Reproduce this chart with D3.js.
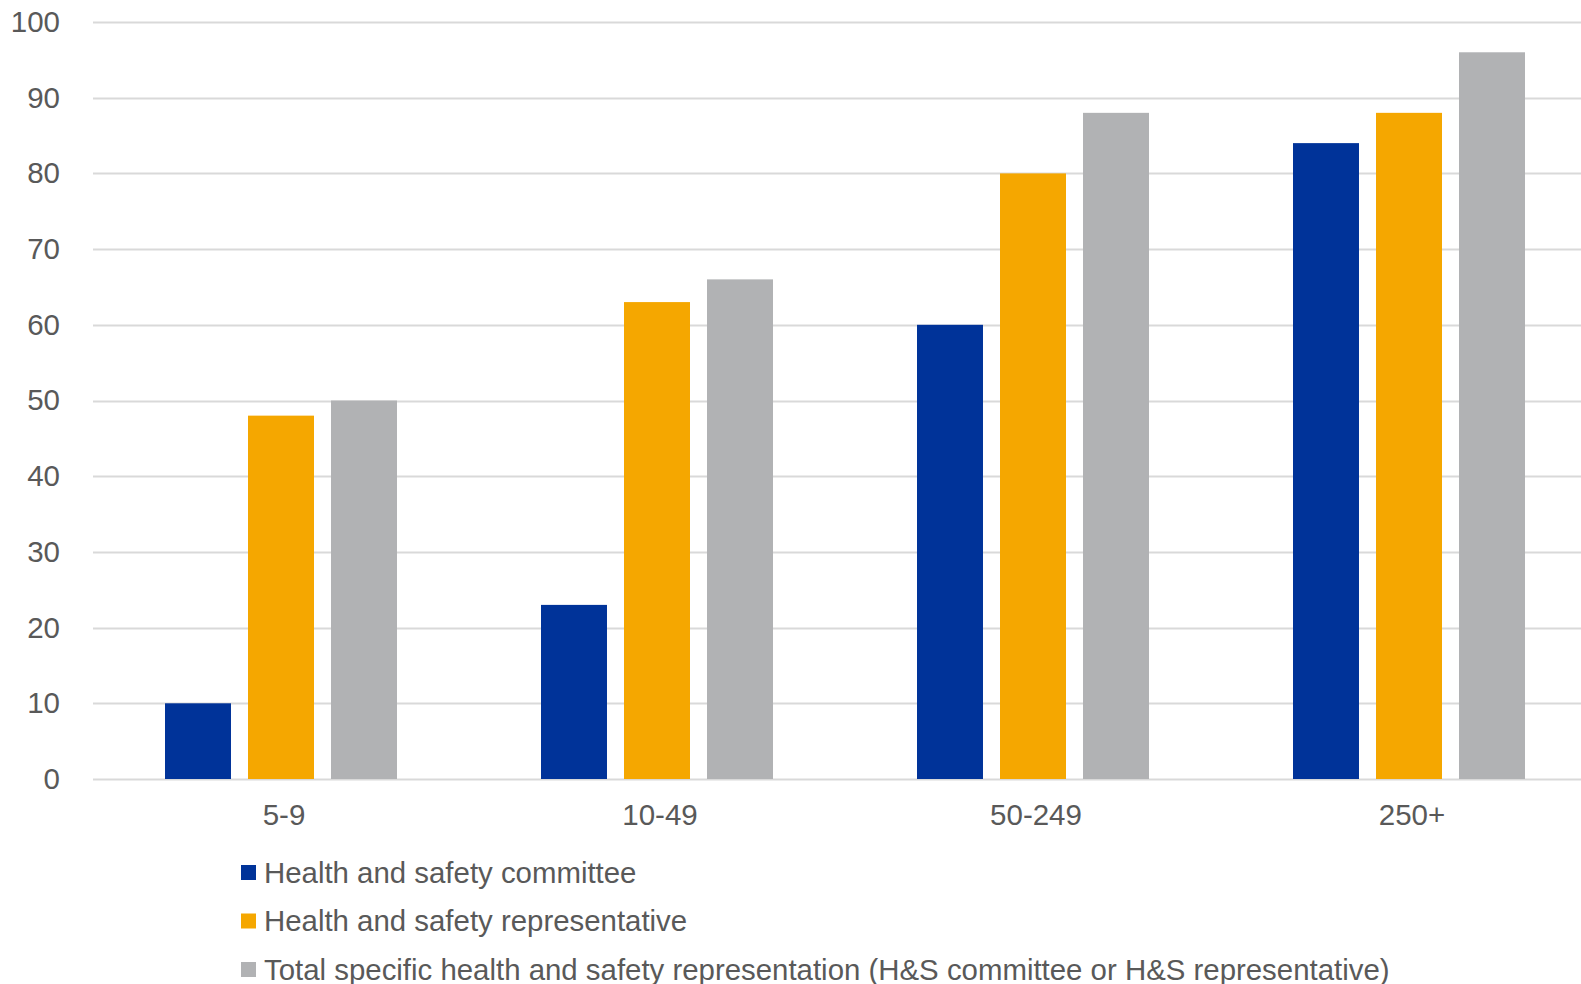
<!DOCTYPE html>
<html>
<head>
<meta charset="utf-8">
<script src="https://cdn.jsdelivr.net/npm/d3@7/dist/d3.min.js"></script>
<style>
  html, body { margin: 0; padding: 0; background: #fff; }
  svg { display: block; font-family: "Liberation Sans", Arial, sans-serif; }
</style>
</head>
<body>
<svg id="chart" width="1581" height="984"></svg>
<script>
const categories = ["5-9", "10-49", "50-249", "250+"];
const seriesNames = [
  "Health and safety committee",
  "Health and safety representative",
  "Total specific health and safety representation (H&S committee or H&S representative)"
];
const committee = [10, 23, 60, 84];
const representative = [48, 63, 80, 88];
const totalRepresentation = [50, 66, 88, 96];
const yTicks = [0, 10, 20, 30, 40, 50, 60, 70, 80, 90, 100];
const colors = ["#003399", "#F5A700", "#B1B2B4"];

const seriesValues = [committee, representative, totalRepresentation];
const data = categories.map((c, i) => ({
  cat: c,
  vals: seriesNames.map((s, k) => ({ key: s, idx: k, value: seriesValues[k][i] }))
}));

const svg = d3.select("#chart");

const x0 = d3.scaleBand().domain(categories).range([93, 1597]).padding(0);
const groupPad = 72;
const x1 = d3.scaleBand().domain(d3.range(seriesNames.length))
  .range([groupPad, x0.bandwidth() - groupPad]).paddingInner(0.205).paddingOuter(0);
const y = d3.scaleLinear().domain([0, 100]).range([779, 22]);

// gridlines
svg.append("g").selectAll("line").data(yTicks).join("line")
  .attr("x1", 93).attr("x2", 1581)
  .attr("y1", d => Math.round(y(d)) + 0.5).attr("y2", d => Math.round(y(d)) + 0.5)
  .attr("stroke", "#D9D9D9").attr("stroke-width", 2);

// y axis labels
const yAxis = d3.axisLeft(y).tickValues(yTicks).tickSize(0).tickPadding(0);
const gy = svg.append("g").attr("transform", "translate(60,0)").call(yAxis);
gy.select(".domain").remove();
gy.selectAll("text").attr("fill", "#595959").attr("font-size", 29.5)
  .attr("font-family", "Liberation Sans, Arial, sans-serif");

// bars
const groups = svg.append("g").selectAll("g").data(data).join("g")
  .attr("transform", d => `translate(${x0(d.cat)},0)`);
groups.selectAll("rect").data(d => d.vals).join("rect")
  .attr("x", d => x1(d.idx))
  .attr("width", x1.bandwidth())
  .attr("y", d => y(d.value))
  .attr("height", d => y(0) - y(d.value))
  .attr("fill", d => colors[d.idx]);

// x axis labels
const xAxis = d3.axisBottom(x0).tickSize(0).tickPadding(0);
const gx = svg.append("g").attr("transform", "translate(3,804)").call(xAxis);
gx.select(".domain").remove();
gx.selectAll("text").attr("fill", "#595959").attr("font-size", 29.5)
  .attr("font-family", "Liberation Sans, Arial, sans-serif");

// legend
const legend = svg.append("g").selectAll("g").data(seriesNames).join("g")
  .attr("transform", (d, i) => `translate(241,${872.5 + i * 48.5})`);
legend.append("rect").attr("x", 0).attr("y", -7.5).attr("width", 15).attr("height", 15)
  .attr("fill", (d, i) => colors[i]);
legend.append("text").attr("x", 23).attr("y", 0).attr("dy", "0.35em")
  .attr("font-size", 29.4).attr("fill", "#595959").text(d => d);
</script>
</body>
</html>
